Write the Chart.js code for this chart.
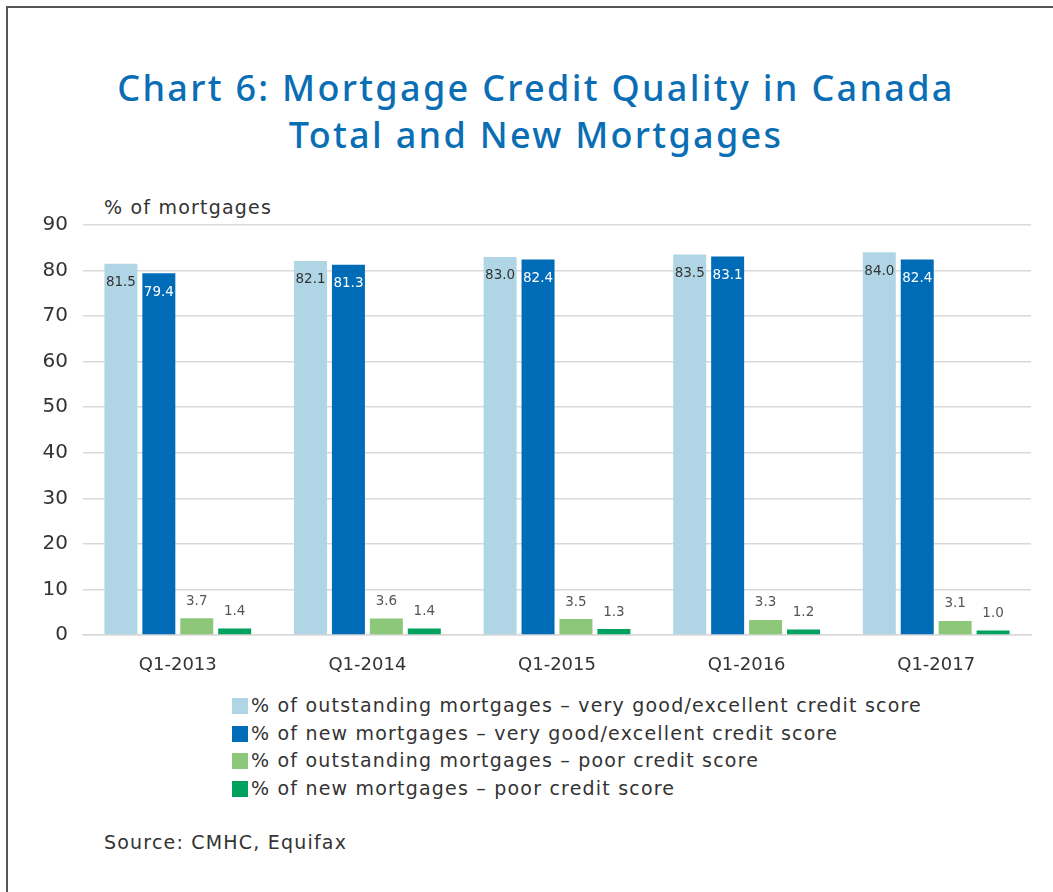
<!DOCTYPE html>
<html>
<head>
<meta charset="utf-8">
<script src="https://cdn.jsdelivr.net/npm/chart.js@4.4.1/dist/chart.umd.min.js"></script>
<style>
  html, body { margin: 0; padding: 0; background: #fff; }
  body { width: 1053px; height: 892px; position: relative; overflow: hidden; font-family: "DejaVu Sans", sans-serif; color: #333; }
  .frame { position: absolute; left: 6px; top: 6px; width: 1200px; height: 1000px; border-left: 2px solid #555; border-top: 2px solid #555; }
  .title { position: absolute; left: 0; top: 64px; width: 1072px; text-align: center; color: #0a6eb5; font-family: "Noto Sans", sans-serif; font-size: 36px; font-weight: 500; letter-spacing: 2.3px; line-height: 47px; }
  .unit { position: absolute; left: 104px; top: 196px; font-size: 19px; letter-spacing: 1.2px; }
  #wrap { position: absolute; left: 0; top: 180px; width: 1053px; height: 500px; }
  .legend { position: absolute; left: 232px; top: 692px; font-size: 19px; letter-spacing: 1.2px; }
  .legend div { height: 27.5px; line-height: 27.5px; white-space: nowrap; }
  .legend span { display: inline-block; width: 16px; height: 16px; margin-right: 3px; vertical-align: -2px; }
  .source { position: absolute; left: 104px; top: 831px; font-size: 19px; letter-spacing: 1.2px; }
</style>
</head>
<body>
<div class="frame"></div>
<div class="title">Chart 6: Mortgage Credit Quality in Canada<br>Total and New Mortgages</div>
<div class="unit">% of mortgages</div>
<div id="wrap"><canvas id="chart"></canvas></div>
<div class="legend" id="legend"></div>
<div class="source">Source: CMHC, Equifax</div>
<script>
const categories = ['Q1-2013', 'Q1-2014', 'Q1-2015', 'Q1-2016', 'Q1-2017'];
const outstandingGood = [81.5, 82.1, 83.0, 83.5, 84.0];
const newGood = [79.4, 81.3, 82.4, 83.1, 82.4];
const outstandingPoor = [3.7, 3.6, 3.5, 3.3, 3.1];
const newPoor = [1.4, 1.4, 1.3, 1.2, 1.0];
const seriesLabels = [
  '% of outstanding mortgages \u2013 very good/excellent credit score',
  '% of new mortgages \u2013 very good/excellent credit score',
  '% of outstanding mortgages \u2013 poor credit score',
  '% of new mortgages \u2013 poor credit score'
];
const colors = ['#b0d6e6', '#006cb7', '#8dc87a', '#00a05e'];
const labelColors = ['#333', '#fff', '#555', '#555'];

const FONT = '"DejaVu Sans", sans-serif';

// value labels: inside the top for the tall bars, above for the short ones
const barLabels = {
  id: 'barLabels',
  afterDatasetsDraw(chart) {
    const ctx = chart.ctx;
    ctx.save();
    ctx.font = '13.5px ' + FONT;
    ctx.textAlign = 'center';
    ctx.textBaseline = 'middle';
    chart.data.datasets.forEach((ds, i) => {
      chart.getDatasetMeta(i).data.forEach((bar, j) => {
        const v = ds.data[j];
        ctx.fillStyle = labelColors[i];
        const y = v > 20 ? bar.y + 19 : bar.y - 17;
        ctx.fillText(v.toFixed(1), bar.x, y);
      });
    });
    ctx.restore();
  }
};

new Chart(document.getElementById('chart'), {
  type: 'bar',
  data: {
    labels: categories,
    datasets: [outstandingGood, newGood, outstandingPoor, newPoor].map((d, i) => ({
      label: seriesLabels[i],
      data: d,
      backgroundColor: colors[i],
      categoryPercentage: 0.8,
      barPercentage: 0.87
    }))
  },
  options: {
    responsive: true,
    maintainAspectRatio: false,
    animation: false,
    layout: { padding: { top: 45, right: 22, left: 0, bottom: 0 } },
    scales: {
      y: {
        min: 0,
        max: 90,
        ticks: { stepSize: 10, color: '#333', padding: 15, font: { size: 20, family: FONT } },
        grid: { color: '#d9d9d9', lineWidth: 1.5, drawTicks: false },
        border: { display: false },
        afterFit(scale) { scale.width = 83; }
      },
      x: {
        ticks: { color: '#333', padding: 12, font: { size: 18, family: FONT } },
        grid: { display: false },
        border: { color: '#d9d9d9', width: 1.5 },
        afterFit(scale) { scale.height = 45; }
      }
    },
    plugins: {
      legend: { display: false },
      tooltip: { enabled: false }
    }
  },
  plugins: [barLabels]
});

document.getElementById('legend').innerHTML = seriesLabels
  .map((l, i) => '<div><span style="background:' + colors[i] + '"></span>' + l + '</div>')
  .join('');
</script>
</body>
</html>
